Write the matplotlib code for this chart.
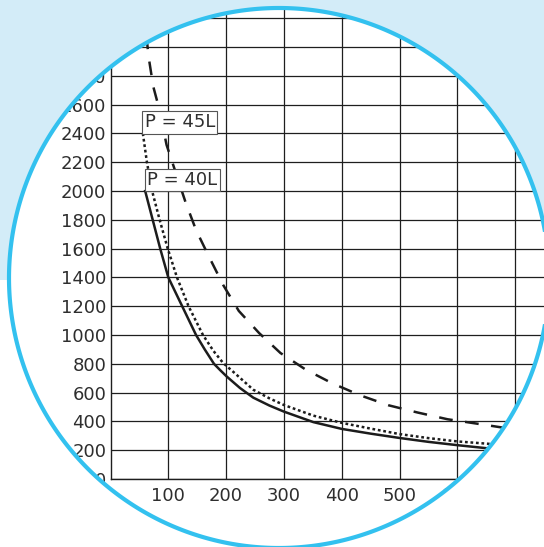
import numpy as np
import matplotlib
matplotlib.use("Agg")
import matplotlib.pyplot as plt
from matplotlib.patches import Polygon

# ---------------- data ----------------
p40_x = [60, 73, 86, 100, 124, 148, 163, 179, 190, 201, 224, 247, 275, 300, 351, 400, 450, 500, 550, 600, 655]
p40_y = [2000, 1800, 1600, 1400, 1200, 1000, 900, 800, 755, 712, 632, 565, 510, 468, 395, 348, 315, 285, 258, 235, 212]

p45_x = [56, 63, 72, 85, 99, 115, 135, 160, 178, 195, 215, 247, 275, 300, 351, 400, 450, 500, 550, 600, 662]
p45_y = [2400, 2200, 2000, 1800, 1600, 1400, 1200, 1000, 890, 805, 735, 620, 560, 514, 440, 390, 350, 312, 284, 261, 242]

dash_x = [62, 66, 74, 84.5, 97, 130, 148, 169, 195, 222, 257, 294, 338, 384, 432, 481, 531, 583, 633, 690]
dash_y = [3080, 2930, 2725, 2567, 2320, 1920, 1729, 1555, 1347, 1167, 1014, 875, 759, 664, 581, 512, 462, 415, 385, 350]

x_ticks = [100, 200, 300, 400, 500, 600, 700]
y_ticks = list(range(0, 3201, 200))
curve_labels = ["P = 45L", "P = 40L"]

# ---------------- figure ----------------
W, H, DPI = 544, 547, 100
fig = plt.figure(figsize=(W / DPI, H / DPI), dpi=DPI)
fig.patch.set_facecolor("white")

x0_px, y0_px = 110.5, 479.0          # pixel position of data origin (from top-left)
px_per_x, px_per_y = 0.578, 0.144     # pixels per data unit
ax = fig.add_axes([x0_px / W, (H - y0_px) / H, (W - x0_px) / W, y0_px / H])
ax.set_xlim(0, (W - x0_px) / px_per_x)
ax.set_ylim(0, y0_px / px_per_y)
ax.patch.set_alpha(0)

ax.set_xticks(x_ticks)
ax.set_yticks(y_ticks)
ax.tick_params(length=0, labelsize=13, labelcolor="#2e2e2e")
ax.tick_params(axis="x", pad=5.5)
ax.tick_params(axis="y", pad=3.0)
ax.grid(True, color="#1e1e1e", lw=0.9)
ax.set_axisbelow(True)
for s in ["top", "right"]:
    ax.spines[s].set_visible(False)
for s in ["left", "bottom"]:
    ax.spines[s].set_color("#1e1e1e")
    ax.spines[s].set_linewidth(1.0)

lc = "#1c1c1c"
ax.plot(dash_x, dash_y, color=lc, lw=1.8, linestyle=(0, (5.5, 5)), zorder=3)
ax.plot(p45_x, p45_y, color=lc, lw=1.8, linestyle=(0, (1.1, 1.1)), zorder=3)
ax.plot(p40_x, p40_y, color=lc, lw=1.8, linestyle="-", zorder=3)

box = dict(boxstyle="square,pad=0.12", facecolor="white", edgecolor="#555555", lw=0.8)
ax.text(59, 2414, curve_labels[0], fontsize=13, color="#2e2e2e", ha="left", va="bottom",
        bbox=box, zorder=5)
ax.text(64, 2015, curve_labels[1], fontsize=13, color="#2e2e2e", ha="left", va="bottom",
        bbox=box, zorder=5)

# ---------------- circular frame / background masks ----------------
cx, cy, r = 279.0, H - 278.0, 270.0   # circle in pixels (y up)
yb = H - 280.0                         # blue/white boundary (y up)
s = (yb - cy) / r
thL = np.pi - np.arcsin(s)
thR = np.arcsin(s)

def pts(th):
    return np.column_stack([cx + r * np.cos(th), cy + r * np.sin(th)])

top_arc = pts(np.linspace(thL, thR, 400))
bot_arc = pts(np.linspace(thL, thR + 2 * np.pi, 400))

blue_poly = np.vstack([[[-50, yb]], top_arc, [[W + 50, yb], [W + 50, H + 50], [-50, H + 50]]])
white_poly = np.vstack([[[-50, yb]], bot_arc, [[W + 50, yb], [W + 50, -50], [-50, -50]]])

def to_fig(p):
    return np.column_stack([p[:, 0] / W, p[:, 1] / H])

fig.add_artist(Polygon(to_fig(blue_poly), closed=True, transform=fig.transFigure,
                       facecolor="#d3ecf8", edgecolor="none", zorder=10))
fig.add_artist(Polygon(to_fig(white_poly), closed=True, transform=fig.transFigure,
                       facecolor="white", edgecolor="none", zorder=10))
ring = pts(np.linspace(0, 2 * np.pi, 720))
fig.add_artist(Polygon(to_fig(ring), closed=True, transform=fig.transFigure,
                       fill=False, edgecolor="#33c1ef", lw=3.0, zorder=11))

fig.savefig("out.png", dpi=DPI)
